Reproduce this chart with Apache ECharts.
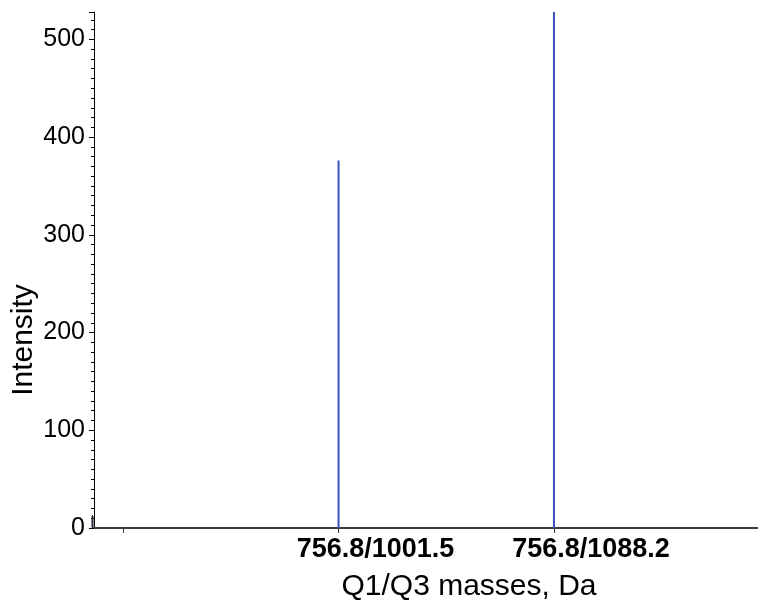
<!DOCTYPE html>
<html>
<head>
<meta charset="utf-8" />
<title>Q1/Q3 intensity</title>
<style>
  html, body { margin: 0; padding: 0; background: #fff; }
  #chart { width: 758px; height: 608px; }
</style>
<script src="https://cdn.jsdelivr.net/npm/echarts@6/dist/echarts.min.js"></script>
</head>
<body>
<div id="chart"></div>
<script>
// transitions, positioned by index on the x axis
var transitions = ['', '756.8/1001.5', '756.8/1088.2'];
var peakIndex = [1, 2];
var intensity = [376, 528];
// tiny peak sitting at the origin
var originPeak = [-0.142, 13];

var xMin = -0.135, xMax = 2.947;
var yTicks = [0, 100, 200, 300, 400, 500];

var font = 'Liberation Sans, Arial, sans-serif';

var chart = echarts.init(document.getElementById('chart'));

var peaks = peakIndex.map(function (x, i) {
  return [x, intensity[i]];
});

chart.setOption({
  animation: false,
  grid: { left: 94, right: 0, top: 12, bottom: 80, outerBoundsMode: 'none' },
  xAxis: {
    type: 'value',
    min: xMin,
    max: xMax,
    name: 'Q1/Q3 masses, Da',
    nameLocation: 'middle',
    nameGap: 44,
    nameTextStyle: { fontFamily: font, fontSize: 30, color: '#000', padding: [0, 0, 0, 86] },
    axisLine: { onZero: false, lineStyle: { color: '#3a3a3a', width: 2 } },
    axisTick: { customValues: [0, 1, 2], length: 5, lineStyle: { color: '#3a3a3a' } },
    axisLabel: {
      customValues: [1, 2],
      formatter: function (v) { return transitions[Math.round(v)]; },
      fontFamily: font, fontSize: 27, fontWeight: 'bold', color: '#000',
      margin: 8, padding: [0, 0, 0, 74]
    },
    splitLine: { show: false }
  },
  yAxis: {
    type: 'value',
    min: 0,
    max: 528,
    interval: 100,
    name: 'Intensity',
    nameLocation: 'middle',
    nameMoveOverlap: false,
    nameGap: 55,
    nameTextStyle: { fontFamily: font, fontSize: 30, color: '#000', padding: [0, 140, 0, 0] },
    axisLine: { show: true, onZero: false, lineStyle: { color: '#000', width: 1 } },
    axisTick: { length: 5, lineStyle: { color: '#000' } },
    minorTick: { show: true, splitNumber: 10, length: 3, lineStyle: { color: '#000' } },
    axisLabel: {
      showMaxLabel: false,
      formatter: function (v) { return yTicks.indexOf(v) >= 0 ? String(v) : ''; },
      fontFamily: font, fontSize: 25, color: '#000', margin: 9
    },
    splitLine: { show: false }
  },
  series: [{
    type: 'bar',
    barWidth: 2,
    barGap: '-100%',
    itemStyle: { color: '#4050bd' },
    data: peaks
  }, {
    type: 'bar',
    barWidth: 2,
    barGap: '-100%',
    clip: false,
    z: 10,
    itemStyle: { color: '#3a55c8', borderColor: '#222', borderWidth: 1 },
    data: [originPeak]
  }]
});
</script>
</body>
</html>
